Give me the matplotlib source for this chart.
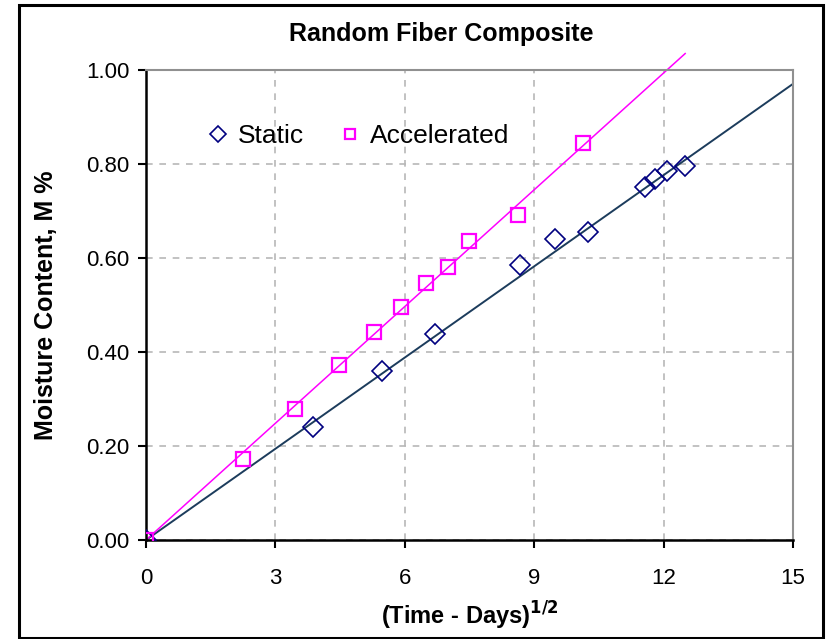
import matplotlib.pyplot as plt
from matplotlib.patches import Rectangle
import numpy as np

plt.rcParams['font.family'] = ['Liberation Sans', 'DejaVu Sans']

# square root of time (days^1/2) and moisture content (%)
static_x = [0.0, 3.87, 5.48, 6.71, 8.66, 9.49, 10.25, 11.58, 11.79, 12.08, 12.49]
static_y = [0.0, 0.241, 0.360, 0.438, 0.585, 0.640, 0.655, 0.752, 0.768, 0.786, 0.796]
accel_x = [0.0, 2.24, 3.46, 4.47, 5.29, 5.92, 6.48, 6.99, 7.48, 8.62, 10.12]
accel_y = [0.0, 0.172, 0.278, 0.373, 0.443, 0.496, 0.546, 0.581, 0.636, 0.691, 0.845]

# linear trend lines through origin
static_fit_x = [0.0, 15.0]
static_slope = 0.0647
accel_fit_x = [0.0, 12.5]
accel_slope = 0.0828

xticks = [0, 3, 6, 9, 12, 15]
yticks = [0.0, 0.2, 0.4, 0.6, 0.8, 1.0]

navy = '#000080'
line_navy = '#1c3c5c'
magenta = '#ff00ff'

fig = plt.figure(figsize=(8.26, 6.39), dpi=100)
ax = fig.add_axes([146 / 826, 1 - 540 / 639, (793 - 146) / 826, (540 - 70) / 639])

# outer chart frame
fig.patches.append(Rectangle((19 / 826, 1 / 639), 804 / 826, 633 / 639,
                             transform=fig.transFigure, fill=False,
                             edgecolor='black', linewidth=2.2))

ax.plot(static_fit_x, static_slope * np.array(static_fit_x), color=line_navy, lw=1.4, zorder=2)
ax.plot(accel_fit_x, accel_slope * np.array(accel_fit_x), color=magenta, lw=1.1,
        zorder=2, clip_on=False)

ax.plot(static_x, static_y, linestyle='none', marker='D', markersize=10.5,
        markerfacecolor='none', markeredgecolor=navy, markeredgewidth=1.2,
        label='Static', zorder=3)
ax.plot(accel_x, accel_y, linestyle='none', marker='s', markersize=10,
        markerfacecolor='none', markeredgecolor=magenta, markeredgewidth=1.6,
        label='Accelerated', zorder=3)

ax.set_xlim(0, 15)
ax.set_ylim(0, 1.0)
ax.set_xticks(xticks)
ax.set_yticks(yticks)
ax.set_xticklabels([str(t) for t in xticks])
ax.set_yticklabels([f'{t:.2f}' for t in yticks])
ax.tick_params(direction='out', length=6, width=1.5, labelsize=16, color='black')
ax.tick_params(axis='x', pad=14)
ax.tick_params(axis='y', pad=6)

ax.grid(True, color='#b8b8b8', linestyle=(0, (4, 4)), linewidth=1.2)
ax.set_axisbelow(True)

for side in ['left', 'bottom']:
    ax.spines[side].set_color('black')
    ax.spines[side].set_linewidth(1.8)
for side in ['top', 'right']:
    ax.spines[side].set_color('#909090')
    ax.spines[side].set_linewidth(1.5)

ax.set_title('Random Fiber Composite', fontsize=18, fontweight='bold', pad=21, x=0.457)
ax.set_xlabel(r'(Time - Days)$^{\mathbf{1/2}}$', fontsize=17, fontweight='bold', labelpad=8)
ax.set_ylabel('Moisture Content, M %', fontsize=18, fontweight='bold', labelpad=20)

leg = ax.legend(loc='upper left', bbox_to_anchor=(0.06, 0.935), ncol=2, frameon=False,
                fontsize=19, markerscale=0.75, handlelength=0.7, handletextpad=0.4,
                columnspacing=1.4)

fig.savefig('out.png', dpi=100)
